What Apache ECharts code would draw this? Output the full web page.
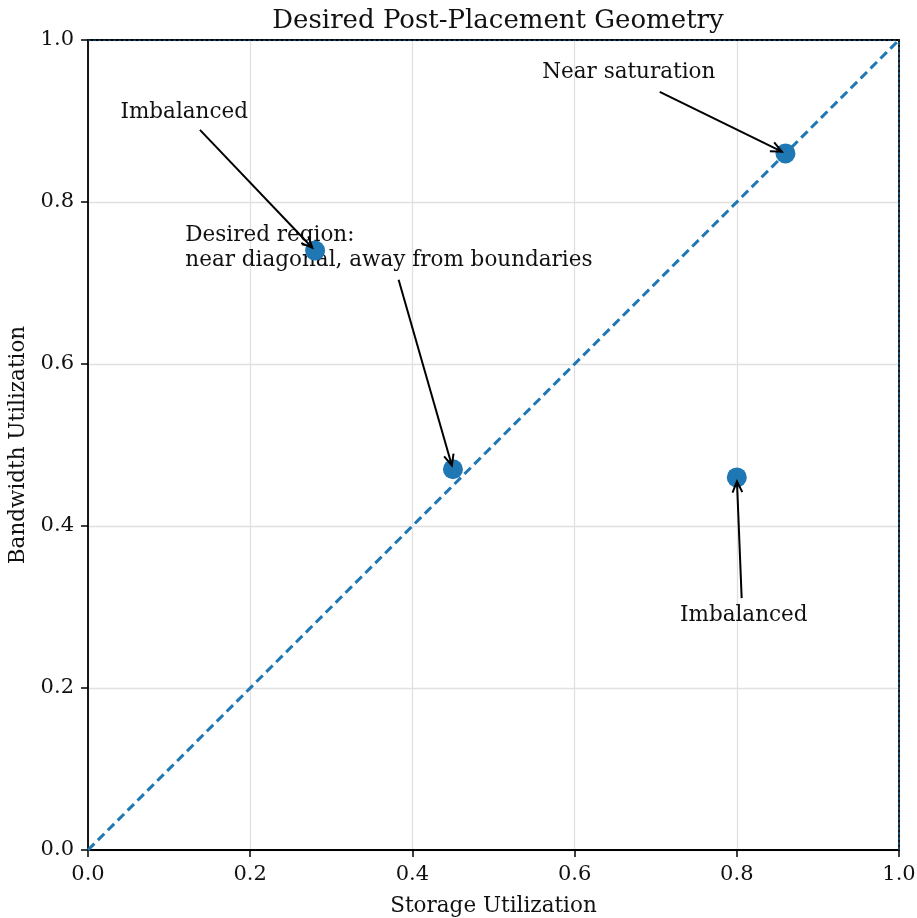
<!DOCTYPE html>
<html><head><meta charset="utf-8">
<script src="https://cdn.jsdelivr.net/npm/echarts@6/dist/echarts.min.js"></script>
<style>html,body{margin:0;padding:0;background:#fff}#c{width:917px;height:918px}</style>
</head><body><div id="c"></div>
<script>
// Data
var pointsX = [0.28, 0.45, 0.86, 0.80];
var pointsY = [0.74, 0.47, 0.86, 0.46];
var diagonal = [[0, 0], [1, 1]];
var annoTexts = ['Imbalanced', 'Desired region:\nnear diagonal, away from boundaries', 'Near saturation', 'Imbalanced'];
var annoTextX = [0.04, 0.12, 0.56, 0.73];
var annoTextY = [0.91, 0.743, 0.96, 0.289];
var arrowTailX = [0.138, 0.383, 0.705, 0.806];
var arrowTailY = [0.889, 0.704, 0.936, 0.311];
var arrowHeadX = [0.28, 0.45, 0.86, 0.80];
var arrowHeadY = [0.74, 0.47, 0.86, 0.46];
var xTicks = [0.0, 0.2, 0.4, 0.6, 0.8, 1.0];
var yTicks = [0.0, 0.2, 0.4, 0.6, 0.8, 1.0];

var FONT = '"DejaVu Serif", serif';
var BLUE = '#1f77b4';
var chart = echarts.init(document.getElementById('c'));

var scatterData = pointsX.map(function (x, i) { return [x, pointsY[i]]; });
var textData = annoTexts.map(function (t, i) { return [annoTextX[i], annoTextY[i], i]; });
var arrowData = arrowTailX.map(function (x, i) { return [x, arrowTailY[i], arrowHeadX[i], arrowHeadY[i]]; });

function axisBase(pos) {
  return {
    type: 'value', min: 0, max: 1, interval: 0.2, position: pos,
    axisLine: { show: true, onZero: false, lineStyle: { color: '#000', width: 1.8 } },
    axisTick: { show: true, length: 7, lineStyle: { color: '#000', width: 1.5 } },
    splitLine: { show: true, lineStyle: { color: '#e0e0e0', width: 1.3 } },
    axisLabel: { color: '#111', fontFamily: FONT, fontSize: 21, margin: 14,
      formatter: function (v) { return v.toFixed(1); } }
  };
}
var xMain = axisBase('bottom');
xMain.name = 'Storage Utilization';
xMain.nameLocation = 'middle';
xMain.nameGap = 45;
xMain.nameTextStyle = { fontFamily: FONT, fontSize: 21.5, color: '#111' };
var yMain = axisBase('left');
yMain.name = 'Bandwidth Utilization';
yMain.nameLocation = 'middle';
yMain.nameGap = 57;
yMain.nameTextStyle = { fontFamily: FONT, fontSize: 21.5, color: '#111' };
var xTop = { type: 'value', min: 0, max: 1, position: 'top', axisLine: { show: true, onZero: false, lineStyle: { color: '#000', width: 1.8 } }, axisTick: { show: false }, axisLabel: { show: false }, splitLine: { show: false } };
var yRight = { type: 'value', min: 0, max: 1, position: 'right', axisLine: { show: true, onZero: false, lineStyle: { color: '#000', width: 1.8 } }, axisTick: { show: false }, axisLabel: { show: false }, splitLine: { show: false } };

chart.setOption({
  animation: false,
  title: { text: 'Desired Post-Placement Geometry', left: 493, textAlign: 'center', top: 3,
    textStyle: { fontFamily: FONT, fontSize: 26, fontWeight: 'normal', color: '#111' } },
  grid: { left: 88, right: 18, top: 40, bottom: 68, containLabel: false, outerBoundsMode: 'none' },
  xAxis: [xMain, xTop],
  yAxis: [yMain, yRight],
  series: [
    { type: 'line', data: diagonal, symbol: 'none', z: 3,
      lineStyle: { color: BLUE, width: 3, type: [9, 5] } },
    { type: 'line', data: [[0, 1], [1, 1]], symbol: 'none', z: 3,
      lineStyle: { color: BLUE, width: 1, type: [3, 2] } },
    { type: 'line', data: [[1, 0], [1, 1]], symbol: 'none', z: 3,
      lineStyle: { color: BLUE, width: 1, type: [3, 2] } },
    { type: 'custom', z: 4, data: textData,
      renderItem: function (params, api) {
        var p = api.coord([api.value(0), api.value(1)]);
        return { type: 'text', x: p[0], y: p[1],
          style: { text: annoTexts[api.value(2)], fill: '#111', font: '21.5px ' + FONT,
            align: 'left', verticalAlign: 'middle', lineHeight: 25 } };
      } },
    { type: 'scatter', data: scatterData, z: 5, symbolSize: 20,
      itemStyle: { color: BLUE, opacity: 1 } },
    { type: 'custom', z: 6, data: arrowData,
      renderItem: function (params, api) {
        var a = api.coord([api.value(0), api.value(1)]);
        var b = api.coord([api.value(2), api.value(3)]);
        var dx = b[0] - a[0], dy = b[1] - a[1];
        var L = Math.sqrt(dx * dx + dy * dy);
        var ux = dx / L, uy = dy / L;
        var tip = [b[0] - ux * 4, b[1] - uy * 4];
        var hl = 12, ang = 0.42;
        var c = Math.cos(ang), s = Math.sin(ang);
        var h1 = [tip[0] - hl * (ux * c - uy * s), tip[1] - hl * (uy * c + ux * s)];
        var h2 = [tip[0] - hl * (ux * c + uy * s), tip[1] - hl * (uy * c - ux * s)];
        var st = { stroke: '#000', lineWidth: 2, fill: null };
        return { type: 'group', children: [
          { type: 'line', shape: { x1: a[0], y1: a[1], x2: tip[0], y2: tip[1] }, style: st },
          { type: 'polyline', shape: { points: [h1, tip, h2] }, style: st }
        ] };
      } }
  ]
});
</script></body></html>
